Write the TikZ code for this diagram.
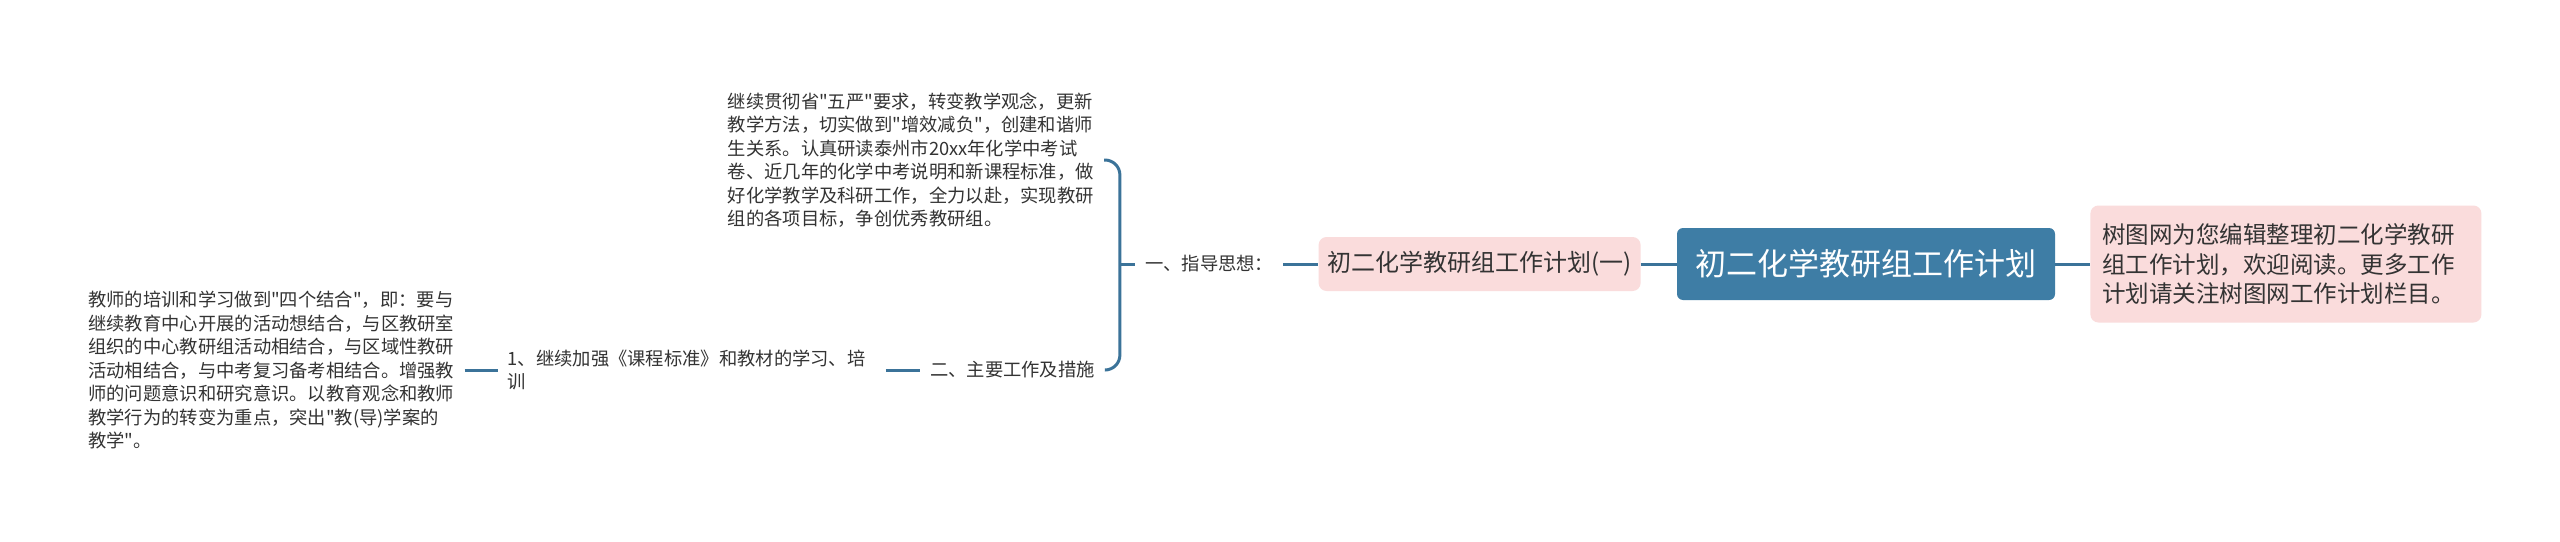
\documentclass[tikz,border=0pt]{standalone}
\usepackage{fontspec}
\setmainfont{Noto Sans CJK SC}[Ligatures=TeXOff]
\usepackage{tikz}
\usetikzlibrary{positioning}
\definecolor{rootblue}{HTML}{3E7DA5}
\definecolor{linkblue}{HTML}{3B7399}
\definecolor{rosefill}{HTML}{FADCDC}
\definecolor{ink}{HTML}{333333}

\begin{document}
\begin{tikzpicture}[x=1pt, y=-1pt,
  txt/.style={text=ink, align=left, inner xsep=10pt, inner ysep=2pt,
              font=\fontsize{18.3pt}{23.5pt}\selectfont},
  card/.style={fill=rosefill, rounded corners=8pt, text=ink, align=left},
  link/.style={draw=linkblue, line width=3pt}]
  \fill[white] (0,0) rectangle (2560,541);
  \useasboundingbox (0,0) rectangle (2560,541);
  \node[fill=rootblue, rounded corners=6pt, minimum width=378pt, minimum height=72pt,
        text=white, font=\fontsize{31pt}{36pt}\selectfont] (root) at (1866,264)
       {初二化学教研组工作计划};
  \node[card, right=35pt of root, text width=367pt, inner xsep=12pt, minimum height=117pt,
        font=\fontsize{23.5pt}{29.5pt}\selectfont] (note)
       {树图网为您编辑整理初二化学教研\\组工作计划，欢迎阅读。更多工作\\计划请关注树图网工作计划栏目。};
  \node[card, left=36pt of root, minimum width=322pt, minimum height=54pt,
        font=\fontsize{24pt}{28pt}\selectfont] (plan) {初二化学教研组工作计划(一)};
  \node[txt, left=35pt of plan] (guide) {一、指导思想：};
  \coordinate[left=15pt of guide.west] (fork);
  \node[txt, anchor=east] (aim) at (1104,160)
       {继续贯彻省"五严"要求，转变教学观念，更新\\教学方法，切实做到"增效减负"，创建和谐师\\生关系。认真研读泰州市20xx年化学中考试\\卷、近几年的化学中考说明和新课程标准，做\\好化学教学及科研工作，全力以赴，实现教研\\组的各项目标，争创优秀教研组。};
  \node[txt, anchor=east] (measure) at (1105,370) {二、主要工作及措施};
  \node[txt, left=34pt of measure, text width=368pt] (study)
       {1、继续加强《课程标准》和教材的学习、培\\训};
  \node[txt, left=33pt of study] (train)
       {教师的培训和学习做到"四个结合"，即：要与\\继续教育中心开展的活动想结合，与区教研室\\组织的中心教研组活动相结合，与区域性教研\\活动相结合，与中考复习备考相结合。增强教\\师的问题意识和研究意识。以教育观念和教师\\教学行为的转变为重点，突出"教(导)学案的\\教学"。};
  \draw[link] (plan) -- (root);
  \draw[link] (root) -- (note);
  \draw[link] (guide) -- (plan);
  \draw[link] (fork) -- (guide.west);
  \draw[link, rounded corners=15pt] (aim.east) -| (fork) |- (measure.east);
  \draw[link] (study) -- (measure);
  \draw[link] (train) -- (study);
\end{tikzpicture}
\end{document}
